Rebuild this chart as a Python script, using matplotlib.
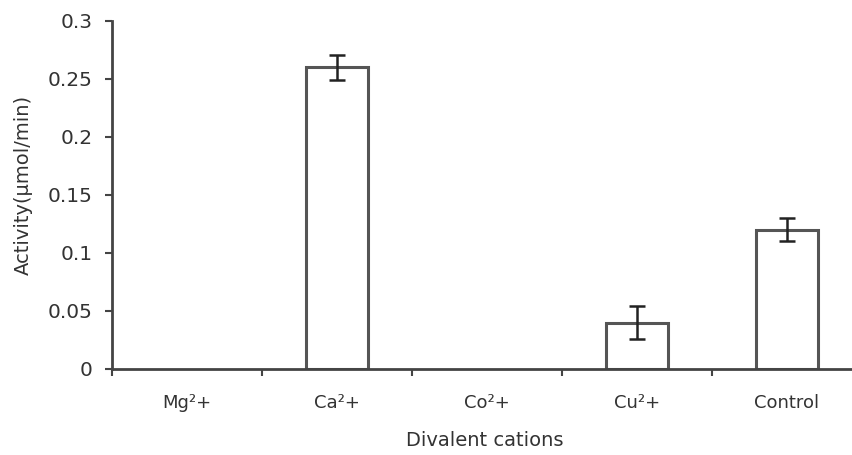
import matplotlib
matplotlib.use("Agg")
import matplotlib.pyplot as plt
from matplotlib.ticker import FixedLocator

plt.rcParams['font.family'] = ['DejaVu Sans']

categories = ["Mg²+", "Ca²+", "Co²+", "Cu²+", "Control"]
values = [0.0, 0.26, 0.0, 0.04, 0.12]
errors = [0.0, 0.011, 0.0, 0.014, 0.010]
has_bar = [False, True, False, True, True]
yticks = [0, 0.05, 0.1, 0.15, 0.2, 0.25, 0.3]
ytick_labels = ["0", "0.05", "0.1", "0.15", "0.2", "0.25", "0.3"]

fig = plt.figure(figsize=(8.53, 4.55), dpi=100)
W, H = 853, 455
x0, x1 = 112, 862
y0, y1 = 369, 21
ax = fig.add_axes([x0 / W, 1 - y0 / H, (x1 - x0) / W, (y0 - y1) / H])

xs = [i for i, b in enumerate(has_bar) if b]
ax.bar(xs, [values[i] for i in xs], width=0.41, facecolor="white",
       edgecolor="#555555", linewidth=2.2, zorder=2)
ax.errorbar(xs, [values[i] for i in xs], yerr=[errors[i] for i in xs],
            fmt="none", ecolor="#222222", elinewidth=1.8, capsize=6,
            capthick=1.8, zorder=3)

ax.set_xlim(-0.5, 4.5)
ax.set_ylim(0, 0.3)
ax.set_yticks(yticks)
ax.set_yticklabels(ytick_labels, fontsize=14.5, color="#333333")
ax.set_xticks(range(len(categories)))
ax.set_xticklabels(categories, fontsize=13, color="#333333")
ax.tick_params(axis="x", which="major", length=0, pad=18)
ax.xaxis.set_minor_locator(FixedLocator([-0.5, 0.5, 1.5, 2.5, 3.5]))
ax.tick_params(axis="x", which="minor", length=5, width=1.5, color="#444444", direction="out")
ax.tick_params(axis="y", length=5, width=1.5, color="#444444", pad=9)

for s in ["top", "right"]:
    ax.spines[s].set_visible(False)
for s in ["left", "bottom"]:
    ax.spines[s].set_linewidth(2)
    ax.spines[s].set_color("#444444")

ax.set_ylabel("Activity(µmol/min)", fontsize=14, color="#333333")
ax.yaxis.set_label_coords(-(112 - 23) / (x1 - x0), (369 - 185) / (y0 - y1))
ax.set_xlabel("Divalent cations", fontsize=14, color="#333333")
ax.xaxis.set_label_coords((485 - x0) / (x1 - x0), -(441 - y0) / (y0 - y1))
ax.xaxis.label.set_va("center")
ax.yaxis.label.set_va("center")

fig.savefig("out.png", dpi=100, facecolor="white")
